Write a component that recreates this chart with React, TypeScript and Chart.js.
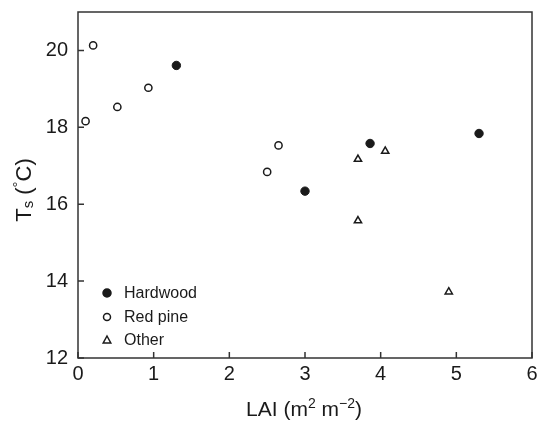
import React, { useEffect, useRef } from "react";
import { Chart, registerables } from "chart.js";

Chart.register(...registerables);

const hardwoodX = [1.3, 3.0, 3.86, 5.3];
const hardwoodY = [19.61, 16.34, 17.58, 17.84];
const redPineX = [0.1, 0.2, 0.52, 0.93, 2.5, 2.65];
const redPineY = [18.16, 20.13, 18.53, 19.03, 16.84, 17.53];
const otherX = [3.7, 3.7, 4.06, 4.9];
const otherY = [17.17, 15.57, 17.38, 13.72];
const xTicks = [0, 1, 2, 3, 4, 5, 6];
const yTicks = [12, 14, 16, 18, 20];
const seriesNames = ["Hardwood", "Red pine", "Other"];

// axis titles as rich-text segments: [text, kind] where kind: n = normal, sup, sub
const xTitle: [string, string][] = [["LAI (m", "n"], ["2", "sup"], [" m", "n"], ["−2", "sup"], [")", "n"]];
const yTitle: [string, string][] = [["T", "n"], ["s", "sub"], [" (", "n"], ["°", "sup"], ["C)", "n"]];

const FONT = "'Liberation Sans', Arial, sans-serif";
const INK = "#1a1a1a";

const zip = (xs: number[], ys: number[]) => xs.map((x, i) => ({ x, y: ys[i] }));

function drawRich(ctx: any, segs: [string, string][], size: number) {
  const small = Math.round(size * 0.68);
  const parts = segs.map(([t, k]) => {
    const s = k === "n" ? size : small;
    ctx.font = `${s}px ${FONT}`;
    const w = ctx.measureText(t).width;
    const dy = k === "sup" ? -size * 0.38 : k === "sub" ? size * 0.1 : 0;
    return { t, s, w, dy };
  });
  const total = parts.reduce((a, p) => a + p.w, 0);
  let x = -total / 2;
  ctx.textAlign = "left";
  ctx.textBaseline = "alphabetic";
  parts.forEach((p) => {
    ctx.font = `${p.s}px ${FONT}`;
    ctx.fillText(p.t, x, p.dy);
    x += p.w;
  });
}

const framePlugin = {
  id: "frame",
  afterDraw(chart: any) {
    const { ctx, chartArea: a, scales } = chart;
    ctx.save();
    ctx.strokeStyle = "#333";
    ctx.lineWidth = 1.5;
    ctx.strokeRect(a.left, a.top, a.right - a.left, a.bottom - a.top);
    ctx.beginPath();
    xTicks.forEach((t) => {
      const px = scales.x.getPixelForValue(t);
      ctx.moveTo(px, a.bottom);
      ctx.lineTo(px, a.bottom - 6);
    });
    yTicks.forEach((t) => {
      const py = scales.y.getPixelForValue(t);
      ctx.moveTo(a.left, py);
      ctx.lineTo(a.left + 6, py);
    });
    ctx.stroke();

    // axis titles
    ctx.fillStyle = INK;
    ctx.save();
    ctx.translate((a.left + a.right) / 2 - 1, 416);
    drawRich(ctx, xTitle, 21);
    ctx.restore();
    ctx.save();
    ctx.translate(31, 190);
    ctx.rotate(-Math.PI / 2);
    drawRich(ctx, yTitle, 22);
    ctx.restore();

    // legend inside plot
    const rows = [293, 317, 340];
    chart.data.datasets.forEach((ds: any, i: number) => {
      const y = rows[i];
      const mx = 107;
      ctx.lineWidth = 1.5;
      ctx.strokeStyle = INK;
      ctx.fillStyle = ds.pointBackgroundColor;
      ctx.beginPath();
      if (ds.pointStyle === "triangle") {
        const r = 4;
        ctx.moveTo(mx, y - r);
        ctx.lineTo(mx + r * 0.95, y + r * 0.75);
        ctx.lineTo(mx - r * 0.95, y + r * 0.75);
        ctx.closePath();
      } else {
        ctx.arc(mx, y, i === 0 ? 4 : 3.5, 0, Math.PI * 2);
      }
      ctx.fill();
      ctx.stroke();
      ctx.fillStyle = INK;
      ctx.font = `16px ${FONT}`;
      ctx.textBaseline = "middle";
      ctx.textAlign = "left";
      ctx.fillText(ds.label, 124, y + 1);
    });
    ctx.restore();
  },
};

export default function App() {
  const ref = useRef<HTMLCanvasElement>(null);
  useEffect(() => {
    if (!ref.current) return;
    const chart = new Chart(ref.current, {
      type: "scatter",
      data: {
        datasets: [
          {
            label: seriesNames[0],
            data: zip(hardwoodX, hardwoodY),
            pointStyle: "circle",
            pointRadius: 4.2,
            pointBackgroundColor: INK,
            pointBorderColor: INK,
            pointBorderWidth: 1,
          },
          {
            label: seriesNames[1],
            data: zip(redPineX, redPineY),
            pointStyle: "circle",
            pointRadius: 3.6,
            pointBackgroundColor: "#fff",
            pointBorderColor: INK,
            pointBorderWidth: 1.5,
          },
          {
            label: seriesNames[2],
            data: zip(otherX, otherY),
            pointStyle: "triangle",
            pointRadius: 4.2,
            pointBackgroundColor: "#fff",
            pointBorderColor: INK,
            pointBorderWidth: 1.5,
          },
        ] as any,
      },
      options: {
        animation: false,
        responsive: false,
        layout: { padding: { left: 0, top: 12, right: 8, bottom: 0 } },
        plugins: { legend: { display: false }, tooltip: { enabled: false } },
        scales: {
          x: {
            type: "linear",
            min: 0,
            max: 6,
            afterBuildTicks: (s: any) => {
              s.ticks = xTicks.map((v) => ({ value: v }));
            },
            afterFit: (s: any) => {
              s.height = 63;
              s.paddingLeft = 0;
              s.paddingRight = 0;
            },
            grid: { display: false, drawTicks: false },
            border: { display: false },
            ticks: { color: INK, font: { family: FONT, size: 20 }, padding: 4, maxRotation: 0 },
            title: { display: false },
          },
          y: {
            type: "linear",
            min: 12,
            max: 21,
            afterBuildTicks: (s: any) => {
              s.ticks = yTicks.map((v) => ({ value: v }));
            },
            afterFit: (s: any) => {
              s.width = 78;
              s.paddingTop = 0;
              s.paddingBottom = 0;
            },
            grid: { display: false, drawTicks: false },
            border: { display: false },
            ticks: { color: INK, font: { family: FONT, size: 20 }, padding: 10 },
            title: { display: false },
          },
        },
      } as any,
      plugins: [framePlugin],
    });
    return () => chart.destroy();
  }, []);
  return (
    <div style={{ position: "fixed", left: 0, top: 0, width: 540, height: 421, background: "#fff" }}>
      <canvas ref={ref} width={540} height={421} style={{ display: "block", width: 540, height: 421 }} />
    </div>
  );
}
